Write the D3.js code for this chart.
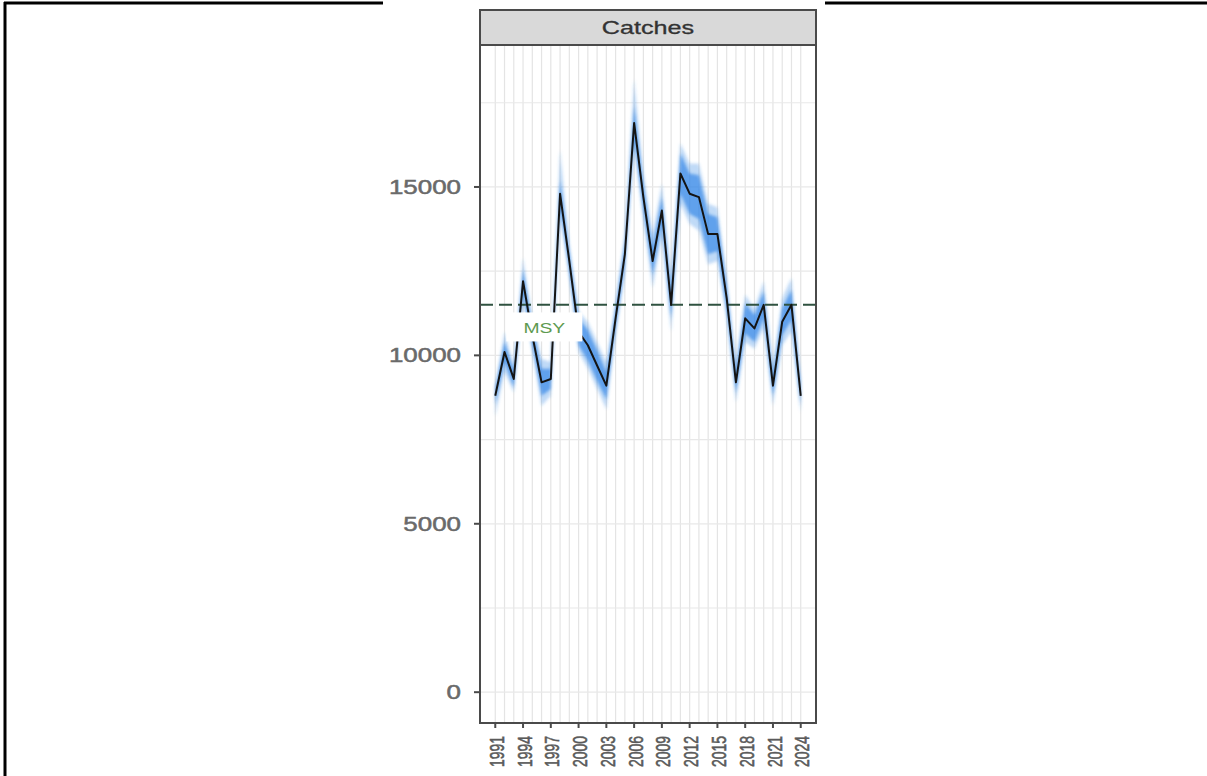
<!DOCTYPE html>
<html>

<head>
    <script src="https://d3js.org/d3.v7.min.js"></script>
    <style>
        body {
            margin: 0;
            background: #fff;
        }

        text {
            font-family: "Liberation Sans", Arial, sans-serif;
        }
    </style>
</head>

<body>
    <svg width="1207" height="776"></svg>

    <script>
        // catches by year, median + 50% and 90% intervals
        const years = [1991, 1992, 1993, 1994, 1995, 1996, 1997, 1998, 1999, 2000,
            2001, 2002, 2003, 2004, 2005, 2006, 2007, 2008, 2009, 2010,
            2011, 2012, 2013, 2014, 2015, 2016, 2017, 2018, 2019, 2020,
            2021, 2022, 2023, 2024];
        const catchMid = [8800, 10100, 9300, 12200, 10600, 9200, 9300, 14800, 12800, 10700,
            10300, 9700, 9100, 11100, 13000, 16900, 14700, 12800, 14300, 11500,
            15400, 14800, 14700, 13600, 13600, 11700, 9200, 11100, 10800, 11500,
            9100, 11000, 11500, 8800];
        const catchLo50 = [8550, 9800, 9050, 11850, 10300, 8800, 9000, 14400, 12500, 10300,
            9850, 9250, 8700, 10800, 12650, 16400, 14300, 12400, 13900, 11100,
            14800, 14200, 14050, 13000, 13100, 11300, 8900, 10650, 10400, 11100,
            8800, 10600, 11050, 8500];
        const catchHi50 = [9050, 10400, 9550, 12550, 10900, 9600, 9600, 15200, 13100, 11100,
            10750, 10150, 9500, 11400, 13350, 17400, 15100, 13200, 14700, 11900,
            16000, 15400, 15350, 14200, 14100, 12100, 9500, 11550, 11200, 11900,
            9400, 11400, 11950, 9100];
        const catchLo90 = [8200, 9500, 8900, 11600, 10100, 8500, 8800, 14200, 12300, 10100,
            9600, 9000, 8400, 10600, 12400, 16200, 14000, 12000, 13500, 10700,
            14500, 13900, 13700, 12700, 12800, 11100, 8600, 10400, 10200, 10800,
            8500, 10300, 10700, 8300];
        const catchHi90 = [9100, 10700, 9700, 12900, 11100, 9900, 9800, 16100, 13300, 11300,
            11000, 10400, 9800, 11600, 13600, 18200, 15400, 13600, 15100, 12300,
            16300, 15700, 15700, 14500, 14400, 12300, 9800, 11800, 11400, 12200,
            9700, 11700, 12300, 9300];

        const msy = 11500;
        const msyLabel = "MSY";
        const msyLabelAt = [1996.3, 10800];
        const xTicks = [1991, 1994, 1997, 2000, 2003, 2006, 2009, 2012, 2015, 2018, 2021, 2024];
        const yTicks = [0, 5000, 10000, 15000];
        const yGrid = [0, 2500, 5000, 7500, 10000, 12500, 15000, 17500];
        const panelTitle = "Catches";

        const svg = d3.select("svg");

        // soft edges on the interval bands, like the source image
        svg.append("defs").append("filter")
            .attr("id", "soft")
            .attr("x", "-10%").attr("y", "-10%").attr("width", "120%").attr("height", "120%")
            .append("feGaussianBlur").attr("stdDeviation", 1.8);

        // page frame (left + top rule), the chart image sits on top
        svg.append("line").attr("x1", 5).attr("x2", 5).attr("y1", 2).attr("y2", 776)
            .attr("stroke", "#000").attr("stroke-width", 3);
        svg.append("line").attr("x1", 4).attr("x2", 1207).attr("y1", 3).attr("y2", 3)
            .attr("stroke", "#000").attr("stroke-width", 3);
        svg.append("rect").attr("x", 383).attr("y", 0).attr("width", 442).attr("height", 776)
            .attr("fill", "#fff");

        const plot = { left: 480, right: 816, top: 45, bottom: 723 };
        const stripTop = 10;

        // ggplot style 5% expansion
        const xPad = (years[years.length - 1] - years[0]) * 0.05;
        const yPad = 18300 * 0.05;
        const x = d3.scaleLinear()
            .domain([years[0] - xPad, years[years.length - 1] + xPad])
            .range([plot.left, plot.right]);
        const y = d3.scaleLinear()
            .domain([0 - yPad, 18300 + yPad])
            .range([plot.bottom, plot.top]);

        const g = svg.append("g");

        // grid
        g.append("g").selectAll("line")
            .data(years)
            .join("line")
            .attr("x1", d => x(d)).attr("x2", d => x(d))
            .attr("y1", plot.top).attr("y2", plot.bottom)
            .attr("stroke", "#e4e4e4").attr("stroke-width", 1.2);
        g.append("g").selectAll("line")
            .data(yGrid)
            .join("line")
            .attr("x1", plot.left).attr("x2", plot.right)
            .attr("y1", d => y(d)).attr("y2", d => y(d))
            .attr("stroke", "#e8e8e8").attr("stroke-width", 1.2);

        const rows = years.map((yr, i) => ({
            year: yr, mid: catchMid[i],
            lo50: catchLo50[i], hi50: catchHi50[i],
            lo90: catchLo90[i], hi90: catchHi90[i]
        }));

        // intervals
        const bands = g.append("g").attr("filter", "url(#soft)");
        bands.append("path")
            .datum(rows)
            .attr("fill", "#2f86e6").attr("fill-opacity", 0.3)
            .attr("d", d3.area().x(d => x(d.year)).y0(d => y(d.lo90)).y1(d => y(d.hi90)));
        bands.append("path")
            .datum(rows)
            .attr("fill", "#2f86e6").attr("fill-opacity", 0.68)
            .attr("d", d3.area().x(d => x(d.year)).y0(d => y(d.lo50)).y1(d => y(d.hi50)));

        // MSY reference
        g.append("line")
            .attr("x1", plot.left).attr("x2", plot.right)
            .attr("y1", y(msy)).attr("y2", y(msy))
            .attr("stroke", "#2f5240").attr("stroke-width", 2)
            .attr("stroke-dasharray", "13,6");

        // median line
        g.append("path")
            .datum(rows)
            .attr("fill", "none")
            .attr("stroke", "#141414").attr("stroke-width", 2)
            .attr("stroke-linejoin", "round")
            .attr("d", d3.line().x(d => x(d.year)).y(d => y(d.mid)));

        // MSY label (white box, no border)
        const lx = x(msyLabelAt[0]), ly = y(msyLabelAt[1]);
        g.append("rect")
            .attr("x", lx - 38).attr("y", ly - 16)
            .attr("width", 76).attr("height", 29)
            .attr("fill", "#fff");
        g.append("text")
            .attr("transform", `translate(${lx},${ly}) scale(1.38,1)`)
            .attr("text-anchor", "middle")
            .attr("dy", "0.35em")
            .attr("font-size", 14)
            .attr("fill", "#5e9a50")
            .text(msyLabel);

        // panel border
        g.append("rect")
            .attr("x", plot.left).attr("y", plot.top)
            .attr("width", plot.right - plot.left).attr("height", plot.bottom - plot.top)
            .attr("fill", "none").attr("stroke", "#4a4a4a").attr("stroke-width", 2);

        // facet strip
        g.append("rect")
            .attr("x", plot.left).attr("y", stripTop)
            .attr("width", plot.right - plot.left).attr("height", plot.top - stripTop)
            .attr("fill", "#d9d9d9").attr("stroke", "#4a4a4a").attr("stroke-width", 2);
        g.append("text")
            .attr("transform", `translate(${(plot.left + plot.right) / 2},${(stripTop + plot.top) / 2}) scale(1.4,1)`)
            .attr("text-anchor", "middle")
            .attr("dy", "0.36em")
            .attr("font-size", 18)
            .attr("fill", "#333")
            .attr("stroke", "#333").attr("stroke-width", 0.3)
            .text(panelTitle);

        // y axis
        const yAxis = g.append("g");
        yAxis.selectAll("line")
            .data(yTicks)
            .join("line")
            .attr("x1", plot.left - 6).attr("x2", plot.left)
            .attr("y1", d => y(d)).attr("y2", d => y(d))
            .attr("stroke", "#4a4a4a").attr("stroke-width", 2);
        yAxis.selectAll("text")
            .data(yTicks)
            .join("text")
            .attr("transform", d => `translate(${plot.left - 19},${y(d)}) scale(1.33,1)`)
            .attr("text-anchor", "end")
            .attr("dy", "0.36em")
            .attr("font-size", 19.5)
            .attr("fill", "#6a6a6a")
            .attr("stroke", "#6a6a6a").attr("stroke-width", 0.5)
            .text(d => d);

        // x axis
        const xAxis = g.append("g");
        xAxis.selectAll("line")
            .data(xTicks)
            .join("line")
            .attr("x1", d => x(d)).attr("x2", d => x(d))
            .attr("y1", plot.bottom).attr("y2", plot.bottom + 5)
            .attr("stroke", "#4a4a4a").attr("stroke-width", 2);
        xAxis.selectAll("text")
            .data(xTicks)
            .join("text")
            .attr("transform", d => `translate(${x(d) + 1},${plot.bottom + 13}) rotate(-90) scale(1,1.5)`)
            .attr("text-anchor", "end")
            .attr("dy", "0.36em")
            .attr("font-size", 14)
            .attr("fill", "#5a5a5a")
            .attr("stroke", "#5a5a5a").attr("stroke-width", 0.4)
            .text(d => d);
    </script>
</body>

</html>
